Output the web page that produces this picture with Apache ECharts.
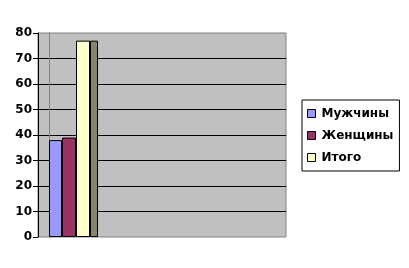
<!DOCTYPE html>
<html><head><meta charset="utf-8">
<script src="https://cdn.jsdelivr.net/npm/echarts@6/dist/echarts.min.js"></script>
<style>html,body{margin:0;padding:0;background:#fff}#c{width:409px;height:268px}</style>
</head><body><div id="c"></div>
<script>
var categories = ['Всего'];
var seriesNames = ['Мужчины', 'Женщины', 'Итого'];
var muzhchiny = [38];
var zhenshchiny = [39];
var itogo = [77];
var yTicks = [0, 10, 20, 30, 40, 50, 60, 70, 80];

var FONT = 'DejaVu Sans';
var chart = echarts.init(document.getElementById('c'), null, {renderer: 'canvas'});
var yMin = yTicks[0], yMax = yTicks[yTicks.length - 1], yStep = yTicks[1] - yTicks[0];
chart.setOption({
  animation: false,
  backgroundColor: '#ffffff',
  grid: [
    {left: 38, right: 123, top: 33, bottom: 31, show: true, backgroundColor: '#c0c0c0', borderColor: '#808080', borderWidth: 1, containLabel: false},
    {left: 49, width: 49, top: 33, bottom: 31, containLabel: false}
  ],
  legend: {
    data: seriesNames,
    orient: 'vertical',
    left: 302, top: 100,
    padding: [7, 6, 7, 5],
    itemWidth: 8, itemHeight: 8, itemGap: 9,
    icon: 'rect',
    backgroundColor: '#ffffff',
    borderColor: '#000000', borderWidth: 1,
    itemStyle: {borderColor: '#000000', borderWidth: 1},
    textStyle: {fontFamily: FONT, fontWeight: 'bold', fontSize: 12, lineHeight: 13, color: '#000', padding: [0, 0, 0, 1]}
  },
  xAxis: [
    {type: 'category', gridIndex: 0, data: categories, show: false},
    {type: 'category', gridIndex: 1, data: categories, show: false}
  ],
  yAxis: [
    {type: 'value', gridIndex: 0, min: yMin, max: yMax, interval: yStep,
     axisLine: {show: true, lineStyle: {color: '#000', width: 1}},
     axisTick: {show: true, length: 5, lineStyle: {color: '#000'}},
     axisLabel: {margin: 6, fontFamily: FONT, fontWeight: 'bold', fontSize: 12, color: '#000'},
     splitLine: {show: true, showMinLine: false, showMaxLine: false, lineStyle: {color: '#000', width: 1}}},
    {type: 'value', gridIndex: 1, min: yMin, max: yMax, interval: yStep,
     axisLine: {show: true, lineStyle: {color: '#808080', width: 1}},
     axisTick: {show: false}, axisLabel: {show: false}, splitLine: {show: false}}
  ],
  series: [
    {name: seriesNames[0], type: 'bar', xAxisIndex: 1, yAxisIndex: 1, data: muzhchiny, barWidth: 13, barGap: 0, barCategoryGap: 0,
     itemStyle: {color: '#9999ff', borderColor: '#000', borderWidth: 1}},
    {name: seriesNames[1], type: 'bar', xAxisIndex: 1, yAxisIndex: 1, data: zhenshchiny, barWidth: 14, barGap: 0,
     itemStyle: {color: '#993366', borderColor: '#000', borderWidth: 1}},
    {name: seriesNames[2], type: 'bar', xAxisIndex: 1, yAxisIndex: 1, data: itogo, barWidth: 14, barGap: 0,
     itemStyle: {color: '#ffffcc', borderColor: '#000', borderWidth: 1}},
    {name: seriesNames[2] + ' (бок)', type: 'bar', xAxisIndex: 1, yAxisIndex: 1, data: itogo, barWidth: 8, barGap: 0,
     itemStyle: {color: '#85856a', borderColor: '#000', borderWidth: 1}}
  ]
});
</script></body></html>
